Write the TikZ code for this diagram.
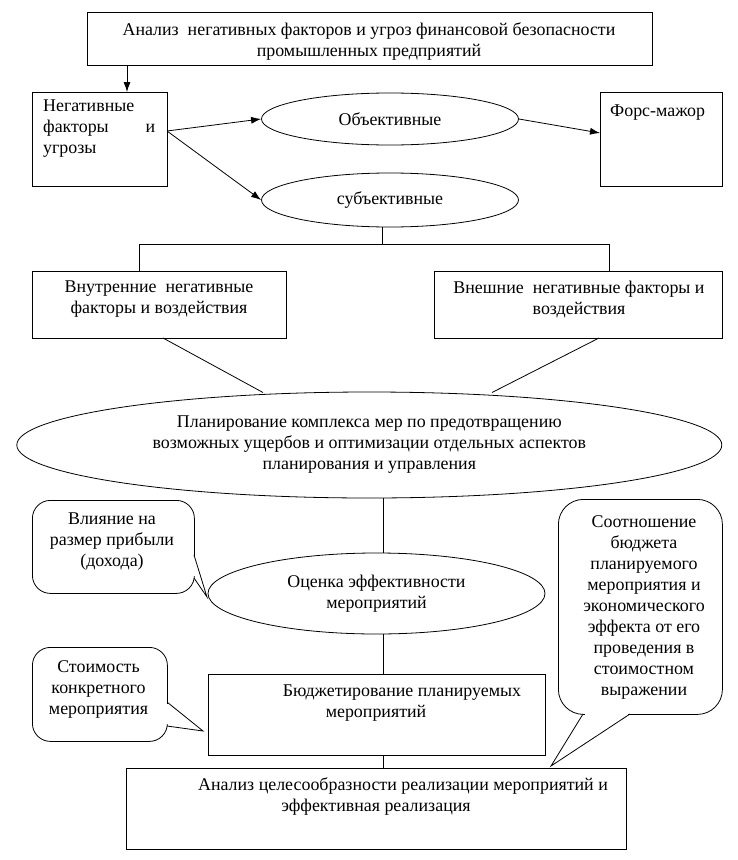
\documentclass[tikz,border=0pt]{standalone}
\usepackage{fontspec}
\setmainfont{Liberation Serif}
\usetikzlibrary{arrows.meta,shapes.geometric}
\tikzset{
  box/.style={draw, line width=0.8bp, inner sep=0, anchor=north west},
  txt/.style={align=center, inner sep=0},
  ell/.style={draw, ellipse, line width=0.8bp, inner sep=0, align=center},
  callbox/.style={draw, line width=0.8bp, inner sep=0, anchor=north west},
  ln/.style={line width=0.8bp},
  arr/.style={line width=0.8bp, -{Latex[length=10bp,width=7bp]}}
}
\begin{document}
\begin{tikzpicture}[x=1bp,y=-1bp, font=\fontsize{17.9bp}{21bp}\selectfont]
\useasboundingbox[fill=white] (0,0) rectangle (738,860);

% boxes
\node[box, minimum width=565.5bp, minimum height=53bp] (top) at (86.5,12) {};
\node[txt] (toptext) at (369,41) {Анализ\ \ негативных факторов и угроз финансовой безопасности\\промышленных предприятий};

\node[box, minimum width=135bp, minimum height=94bp] (neg) at (32,92) {};
\node[inner sep=0, anchor=north west, text width=112bp, align=left] (negtext) at (43,100) {Негативные\\факторы\hfill и\\угрозы};

\node[box, minimum width=122bp, minimum height=94bp] (force) at (600,92) {};
\node[inner sep=0, anchor=west] (forcetext) at (610,112.5) {Форс-мажор};

\node[ell, minimum width=257bp, minimum height=52bp] (obj) at (390,119) {Объективные};
\node[ell, minimum width=257bp, minimum height=54bp] (subj) at (390,200) {субъективные};

\node[box, minimum width=254bp, minimum height=67bp] (inner) at (32,271) {};
\node[txt] (innertext) at (159,299.5) {Внутренние\ \ негативные\\факторы и воздействия};

\node[box, minimum width=288bp, minimum height=67bp] (outer) at (434,271) {};
\node[txt] (outertext) at (579,299.5) {Внешние\ \ негативные факторы и\\воздействия};

\node[ell, minimum width=705bp, minimum height=106bp] (plan) at (369.3,445) {Планирование комплекса мер по предотвращению\\возможных ущербов и оптимизации отдельных аспектов\\планирования и управления};

\node[ell, minimum width=337bp, minimum height=81bp] (ocenka) at (376.5,593.5) {Оценка эффективности\\мероприятий};

\node[box, minimum width=337bp, minimum height=81bp] (budget) at (208,674) {};
\node[txt] (budgettext) at (376,703) {\hspace*{52bp}Бюджетирование планируемых\\мероприятий};

\node[box, minimum width=500bp, minimum height=81bp] (anal) at (126,768) {};
\node[txt] (analtext) at (376,796) {\hspace*{54bp}Анализ целесообразности реализации мероприятий и\\эффективная реализация};

% callouts
\node[callbox, rounded corners=18bp, minimum width=162bp, minimum height=93bp] (c1) at (32,500) {};
\fill[white] (190,557) rectangle (197,576);
\draw[ln, line join=miter] (194,555) -- (207,597) coordinate (c1tip) -- (194,578);
\node[txt] (c1text) at (112,541.5) {Влияние на\\размер прибыли\\(дохода)};

\node[callbox, rounded corners=18bp, minimum width=135bp, minimum height=94bp] (c2) at (32,647) {};
\fill[white] (163,704) rectangle (170,724);
\draw[ln, line join=miter] (167,702) -- (203,731) coordinate (c2tip) -- (167,726);
\node[txt] (c2text) at (98.5,689.5) {Стоимость\\конкретного\\мероприятия};

\node[callbox, rounded corners=25bp, minimum width=164bp, minimum height=215bp] (c3) at (558,499) {};
\fill[white] (585,710) rectangle (628,718);
\draw[ln, line join=miter] (583,714) -- (551,766) coordinate (c3tip) -- (630,714);
\node[txt] (c3text) at (644,607) {Соотношение\\бюджета\\планируемого\\мероприятия и\\экономического\\эффекта от его\\проведения в\\стоимостном\\выражении};

% connectors
\coordinate (a1) at (127,65);
\draw[arr] (a1) -- (a1 |- neg.north);
\coordinate (nfrom) at (167,131);
\draw[arr] (nfrom) -- (obj.west);
\draw[arr] (nfrom) -- (subj.west);
\coordinate (fto) at (600,133);
\draw[arr] (obj.east) -- (fto);

\coordinate (j) at (382,244);
\coordinate (jl) at (139,244);
\coordinate (jr) at (609,244);
\draw[ln] (j |- subj.south) -- (j);
\draw[ln] (jl |- inner.north) -- (jl) -- (jr) -- (jr |- outer.north);

\coordinate (i1) at (163,338);
\coordinate (i2) at (263,392.5);
\coordinate (o1) at (599,338);
\coordinate (o2) at (492,392.5);
\draw[ln] (i1) -- (i2);
\draw[ln] (o1) -- (o2);

\coordinate (v) at (383,498);
\draw[ln] (v) -- (v |- ocenka.north);
\draw[ln] (v |- ocenka.south) -- (v |- budget.north);
\draw[ln] (v |- budget.south) -- (v |- anal.north);
\end{tikzpicture}
\end{document}
